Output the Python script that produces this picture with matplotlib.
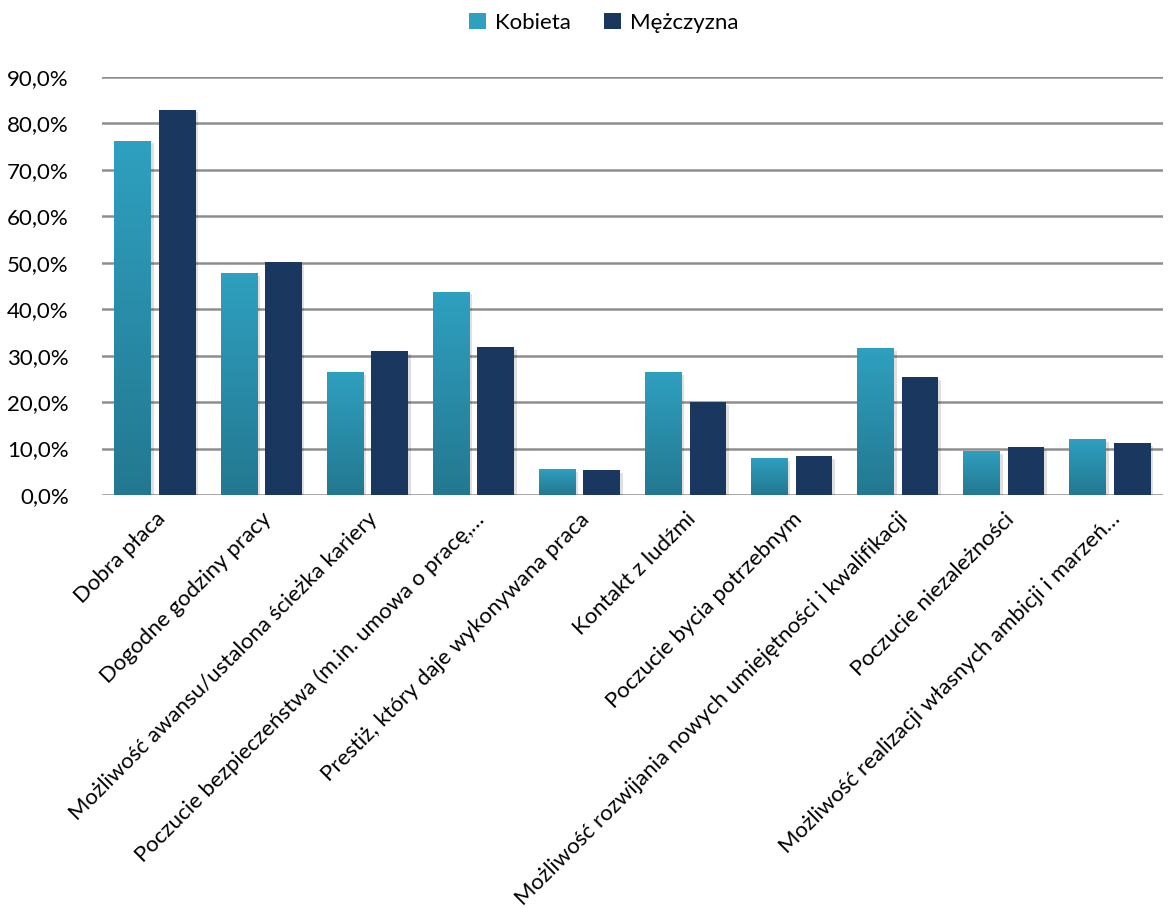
import numpy as np
import matplotlib
matplotlib.use("Agg")
import matplotlib.pyplot as plt
from matplotlib.colors import LinearSegmentedColormap
from matplotlib.patches import Patch
from matplotlib.ticker import FuncFormatter
import matplotlib.patheffects as pe

plt.rcParams['font.family'] = ['Lato', 'DejaVu Sans']

categories = [
    "Dobra płaca",
    "Dogodne godziny pracy",
    "Możliwość awansu/ustalona ścieżka kariery",
    "Poczucie bezpieczeństwa (m.in. umowa o pracę,…",
    "Prestiż, który daje wykonywana praca",
    "Kontakt z ludźmi",
    "Poczucie bycia potrzebnym",
    "Możliwość rozwijania nowych umiejętności i kwalifikacji",
    "Poczucie niezależności",
    "Możliwość realizacji własnych ambicji i marzeń…",
]
kobieta = [76.3, 47.8, 26.5, 43.8, 5.6, 26.5, 8.0, 31.7, 9.5, 12.1]
mezczyzna = [83.0, 50.2, 31.0, 31.9, 5.4, 20.0, 8.4, 25.4, 10.3, 11.2]
series_names = ["Kobieta", "Mężczyzna"]

k_top = "#2fa0c0"
k_bottom = "#237890"
m_color = "#1a3760"
grid_color = "#8e8e8e"
fs = 16

fig = plt.figure(figsize=(11.68, 9.09), dpi=100)
ax = fig.add_axes([0.0873, 0.4554, 0.9084, 0.4599])

x = np.arange(len(categories))
w = 0.345
off = 0.21
shadow = [pe.SimplePatchShadow(offset=(2, -2), shadow_rgbFace='#000000', alpha=0.12), pe.Normal()]

kbars = ax.bar(x - off, kobieta, w, color='none', zorder=3)
mbars = ax.bar(x + off, mezczyzna, w, color=m_color, zorder=3, path_effects=shadow)

# gradient fill for the Kobieta bars
cmap = LinearSegmentedColormap.from_list("k", [k_bottom, k_top])
grad = np.linspace(0, 1, 256).reshape(-1, 1)
for b in kbars:
    x0, h = b.get_x(), b.get_height()
    ax.bar(x0 + w / 2, h, w, color=k_bottom, zorder=2.9, path_effects=shadow)
    im = ax.imshow(grad, cmap=cmap, origin='lower', aspect='auto',
                   extent=[x0, x0 + w, 0, h], zorder=3)
    im.set_clip_path(b)

ax.set_xlim(-0.5, len(categories) - 0.5)
ax.set_ylim(0, 90)
ax.set_yticks(np.arange(0, 91, 10))
ax.yaxis.set_major_formatter(FuncFormatter(lambda v, p: f"{v:.1f}%".replace('.', ',')))
ax.yaxis.grid(True, color=grid_color, linewidth=1.8, zorder=1)
ax.set_axisbelow(True)
for s in ax.spines.values():
    s.set_visible(False)
ax.tick_params(axis='both', length=0, labelsize=fs, colors='#000000')
ax.tick_params(axis='y', pad=24)

ax.set_xticks(x)
ax.set_xticklabels(categories, rotation=45, ha='right', rotation_mode='anchor')
ax.tick_params(axis='x', pad=10)

handles = [Patch(facecolor=k_top, edgecolor='none'), Patch(facecolor=m_color, edgecolor='none')]
fig.legend(handles, series_names, loc='center', bbox_to_anchor=(0.517, 0.975), ncol=2,
           frameon=False, fontsize=fs, handlelength=0.75, handleheight=0.75,
           handletextpad=0.4, columnspacing=1.5)

fig.savefig("out.png", dpi=100, facecolor='white')
